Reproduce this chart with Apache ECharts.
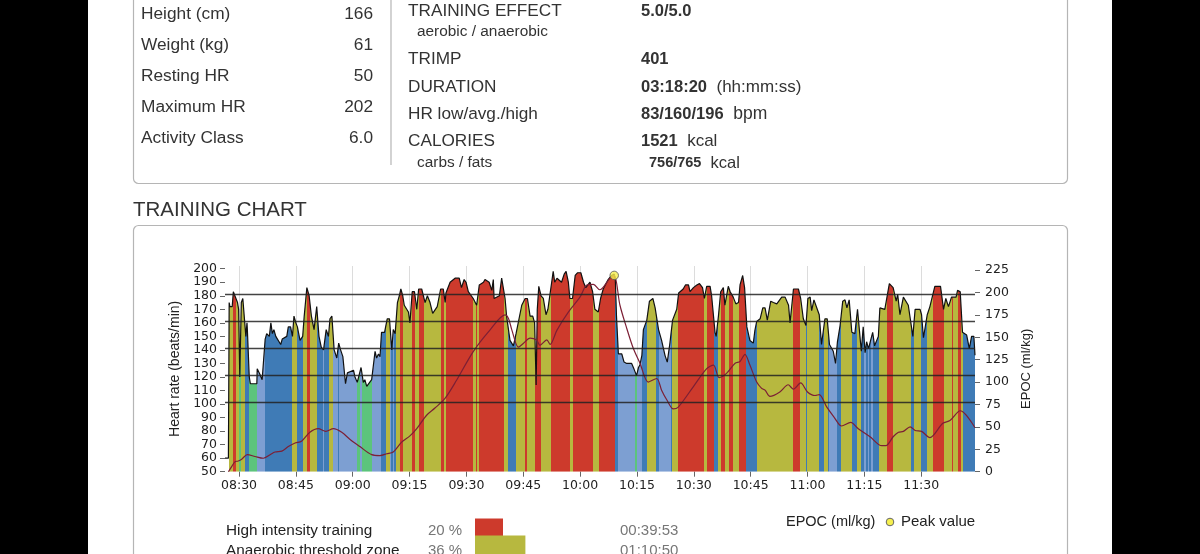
<!DOCTYPE html>
<html>
<head>
<meta charset="utf-8">
<style>html,body{margin:0;padding:0;background:#fff}#myChart{width:1200px;height:554px}</style>
<script src="https://cdn.jsdelivr.net/npm/echarts@6/dist/echarts.min.js"></script>
</head>
<body>
<div id="myChart"></div>
<script>
// times are minutes after 08:30
const hrTimes = [-3.7,-2.8,-2.6,-2.4,-1.8,-1.5,-1.0,-0.4,-0.1,0.2,0.4,0.6,1.0,1.5,1.8,2.1,2.2,2.7,3.0,4.7,4.8,5.5,6.1,6.9,7.3,8.0,8.4,8.8,9.2,9.7,11.0,11.4,12.6,13.0,13.6,14.1,14.5,15.0,15.4,16.1,16.8,17.2,17.9,18.5,19.1,19.8,20.5,21.1,21.7,22.3,23.0,23.6,24.0,24.5,25.1,25.8,26.3,26.8,27.4,28.1,28.6,30.2,30.6,31.2,32.2,32.8,33.2,33.7,35.0,35.9,36.3,36.8,37.2,37.6,38.4,39.1,39.7,40.3,40.7,41.2,41.8,42.3,42.7,43.2,43.6,44.7,45.1,45.7,46.3,46.9,47.4,48.2,49.1,49.7,50.4,51.1,52.3,53.2,53.9,
  54.4,54.6,55.7,57.0,58.1,58.7,59.4,59.9,60.5,61.8,62.7,63.4,64.5,64.9,66.0,66.7,67.1,67.3,68.7,69.3,69.7,70.2,70.6,71.5,72.4,73.1,74.6,75.5,76.1,76.8,77.5,78.0,78.4,78.7,79.1,79.7,80.3,81.0,81.5,82.5,82.9,83.3,83.9,85.1,85.8,86.3,86.9,87.3,88.0,88.7,89.3,90.2,90.9,91.5,92.6,93.3,93.9,94.8,95.4,96.1,97.4,98.3,98.8,99.0,99.3,99.6,100.1,101.0,101.6,102.3,103.6,104.2,104.9,105.4,105.8,106.3,106.7,107.6,108.3,109.2,109.8,110.7,111.5,112.4,113.0,113.7,114.4,115.5,116.0,117.2,117.8,118.6,119.0,119.9,120.8,121.5,122.3,122.8,123.4,124.3,124.7,125.6,125.9,126.5,127.1,127.8,128.2,129.1,
  129.6,130.4,131.1,131.8,132.2,132.9,133.4,134.0,134.8,135.7,136.1,136.6,137.5,138.2,138.8,139.4,140.3,141.0,141.9,143.2,144.1,145.0,145.4,146.3,147.6,148.2,148.9,149.6,150.1,150.7,151.1,151.7,153.1,153.7,154.6,155.2,155.8,156.8,157.4,157.9,158.6,159.3,159.9,160.4,161.0,161.7,162.5,163.2,163.7,164.2,164.7,165.2,165.6,166.1,167.2,167.7,168.7,169.1,170.4,171.6,172.6,173.4,173.8,174.4,175.3,176.6,177.8,178.4,179.7,180.1,180.6,181.6,182.3,183.6,185.1,185.9,186.5,187.2,188.0,189.2,189.6,190.3,190.9,192.0,192.7,193.3,193.9,194.2];
const hrValues = [60,60,175,172,172,183,183,175,170,120,120,175,178,178,150,160,155,120,115,115,126,122,118,148,152,150,160,152,155,150,144,148,150,157,157,150,165,160,157,147,150,165,186,180,165,155,172,150,142,140,155,150,163,165,140,134,145,140,135,115,123,125,120,116,127,116,118,113,118,139,134,137,135,153,153,163,163,140,155,152,175,180,185,180,173,168,160,183,183,170,185,185,175,180,175,167,172,185,185,
  175,182,190,193,193,186,192,190,183,178,173,188,190,192,190,184,192,178,180,193,192,178,165,147,143,152,173,178,178,165,165,160,114,170,187,180,178,166,170,190,198,190,193,190,196,198,190,178,178,195,197,197,190,186,190,183,170,168,178,185,192,195,195,196,192,165,137,137,131,130,130,126,121,127,129,136,155,162,176,178,171,155,147,136,131,145,162,170,182,185,188,188,183,186,188,189,186,178,187,187,180,153,150,165,183,186,173,187,
  183,179,174,175,188,195,186,157,147,145,154,161,163,171,171,162,176,175,174,179,179,173,160,185,185,178,163,158,178,179,169,177,166,144,163,163,144,139,130,146,158,176,177,171,177,153,152,170,170,139,157,138,146,141,153,143,150,171,170,189,186,176,181,166,179,173,150,170,170,166,149,166,172,187,187,170,178,172,179,179,184,183,153,151,141,150,150,136];
const epocTimes = [-2.8,-1.9,-1.1,-0.2,0.7,2.2,4.2,6.4,8.2,9.5,11.3,13.0,14.8,16.5,18.7,20.9,22.9,24.9,27.1,29.3,31.9,35.0,37.2,39.0,40.7,42.9,45.1,46.9,49.5,51.7,54.4,57.4,61.8,66.2,70.2,71.1,72.0,73.7,75.0,76.8,78.5,79.4,81.2,82.1,83.9,86.9,90.0,91.7,93.5,95.2,97.9,99.0,100.5,102.3,104.0,105.8,108.0,110.2,111.5,112.9,114.6,115.9,119.9,123.4,125.2,126.7,128.7,130.9,132.2,133.5,134.8,136.6,137.9,138.8,140.1,142.7,144.9,146.3,148.2,150.0,152.0,153.1,155.1,157.0,159.0,161.4,163.4,166.5,169.6,170.7,172.6,174.0,175.3,177.1,178.4,180.1,182.3,185.7,187.6,190.3,194.2];
const epocValues = [0,6,11,12,14,19,17,15,19,22,23,28,32,34,44,48,45,48,44,36,28,19,18,20,22,33,40,48,63,71,82,102,134,158,175,171,158,139,143,149,147,141,147,142,158,178,195,208,209,203,216,219,186,160,138,121,100,104,91,80,70,72,95,115,119,105,110,121,123,131,119,100,93,91,84,89,97,92,99,89,85,86,72,61,51,55,48,39,29,29,39,44,45,50,46,45,38,54,57,68,49];
const peakTime = 99.0;
const peakEpoc = 219;

// training zones: one kind per stretch, each stretch runs up to its end time
const zoneStart = -2.6;
const zoneEnds = [-1.7,-0.7,0.0,0.5,1.6,2.6,4.7,6.9,14.1,15.2,17.0,17.9,18.7,20.7,22.1,22.4,23.7,24.9,26.0,26.3,31.0,31.9,32.5,35.2,37.4,38.8,39.8,40.1,40.5,40.8,41.4,42.5,43.4,45.6,46.4,47.4,48.7,53.2,54.2,54.6,61.8,62.4,62.7,63.2,70.0,71.1,73.2,75.4,75.9,78.1,78.5,78.7,79.7,82.3,87.3,88.2,93.3,95.1,99.1,100.0,104.5,105.1,106.3,107.7,110.0,110.9,113.9,114.2,115.9,122.7,123.4,125.3,126.3,127.3,128.2,129.2,130.3,131.9,133.7,136.6,146.3,148.1,149.6,150.0,153.1,154.4,155.5,155.8,157.9,158.9,161.7,163.0,164.0,165.0,165.4,165.9,166.3,166.8,167.2,169.0,170.9,172.6,177.3,178.0,180.0,181.6,183.1,185.9,188.2,188.5,189.6,190.4,191.0,194.2];
const zoneKinds = ['o','r','o','g','o','b','g','l','b','o','b','o','r','o','b','l','b','o','l','b','l','g','l','g','l','b','o','l','b','l','b','o','r','o','r','o','r','o','r','o','r','o','r','o','r','o','b','o','r','o','r','g','r','o','r','o','r','o','r','b','l','g','l','b','o','b','l','b','o','r','o','r','b','o','r','o','r','o','r','b','o','r','o','b','o','b','o','b','l','b','o','b','o','b','l','b','l','b','l','b','o','r','o','b','o','b','o','r','o','r','o','r','o','b'];
const zoneColors = { r: '#cd3a2c', o: '#b7b83f', b: '#3f7bb6', l: '#7d9fd2', g: '#5cc47c' };

const timeTicks = [0,15,30,45,60,75,90,105,120,135,150,165,180];
const timeLabels = ['08:30','08:45','09:00','09:15','09:30','09:45','10:00','10:15','10:30','10:45','11:00','11:15','11:30'];
const hrTicks = [50,60,70,80,90,100,110,120,130,140,150,160,170,180,190,200];
const epocTicks = [0,25,50,75,100,125,150,175,200,225];
const hrLimits = [101,121,141,161,181];

const zoneNames = ['High intensity training','Anaerobic threshold zone'];
const zoneShares = [20,36];
const zoneTimes = ['00:39:53','01:10:50'];

const profileLabels = ['Height (cm)','Weight (kg)','Resting HR','Maximum HR','Activity Class'];
const profileValues = ['166','61','50','202','6.0'];

const font = '"Liberation Sans", Arial, sans-serif';
const axisFont = '"DejaVu Sans", sans-serif';
const ink = '#333';

function text(x, y, str, size, extra) {
    return {
        type: 'text', x: x, y: y, silent: true,
        style: Object.assign({ text: str, fill: ink, font: size + 'px ' + font, textVerticalAlign: 'middle' }, extra || {})
    };
}
function boldThen(x, y, bold, rest, size, restSize) {
    return {
        type: 'text', x: x, y: y, silent: true,
        style: {
            text: '{b|' + bold + '}' + (rest ? '{n|  ' + rest + '}' : ''),
            textVerticalAlign: 'middle',
            rich: {
                b: { fontFamily: font, fontSize: size, fontWeight: 'bold', fill: ink, color: ink },
                n: { fontFamily: font, fontSize: restSize, fill: ink, color: ink }
            }
        }
    };
}

const furniture = [
    { type: 'rect', shape: { x: 133.5, y: -20, width: 934, height: 203.5, r: 5 }, style: { fill: '#fff', stroke: '#b5b5b5', lineWidth: 1.2 } },
    { type: 'rect', shape: { x: 133.5, y: 225.5, width: 934, height: 360, r: 5 }, style: { fill: '#fff', stroke: '#b5b5b5', lineWidth: 1.2 } },
    { type: 'rect', shape: { x: 0, y: 0, width: 88, height: 554 }, style: { fill: '#000' } },
    { type: 'rect', shape: { x: 1112, y: 0, width: 88, height: 554 }, style: { fill: '#000' } },
    { type: 'line', shape: { x1: 391, y1: 0, x2: 391, y2: 165 }, style: { stroke: '#b5b5b5', lineWidth: 1.2 } },
    text(133, 210, 'TRAINING CHART', 20.5),
    text(408, 11, 'TRAINING EFFECT', 17.2),
    text(417, 32, 'aerobic / anaerobic', 15.4),
    text(408, 59, 'TRIMP', 17.2),
    text(408, 87, 'DURATION', 17.2),
    text(408, 114, 'HR low/avg./high', 17.2),
    text(408, 141, 'CALORIES', 17.2),
    text(417, 163, 'carbs / fats', 15.4),
    boldThen(641, 11, '5.0/5.0', '', 16.5, 17),
    boldThen(641, 59, '401', '', 16.5, 17),
    boldThen(641, 87, '03:18:20', '(hh:mm:ss)', 16.5, 17),
    boldThen(641, 114, '83/160/196', 'bpm', 16.5, 17.5),
    boldThen(641, 141, '1521', 'kcal', 16.5, 17),
    boldThen(649, 163, '756/765', 'kcal', 14.5, 16.5),
    text(786, 522, 'EPOC (ml/kg)', 14.5, { fill: '#222' }),
    { type: 'circle', shape: { cx: 890, cy: 522, r: 3.8 }, style: { fill: '#f6f04e', stroke: '#666', lineWidth: 1 } },
    text(901, 522, 'Peak value', 15, { fill: '#222' })
];
profileLabels.forEach(function (label, i) {
    const y = 14 + i * 31;
    furniture.push(text(141, y, label, 17.3));
    furniture.push(text(373, y, profileValues[i], 17.3, { textAlign: 'right' }));
});
zoneNames.forEach(function (name, i) {
    const y = 531 + i * 19.5;
    furniture.push(text(226, y, name, 15.3, { fill: '#222' }));
    furniture.push(text(428, y, zoneShares[i] + ' %', 15, { fill: '#777' }));
    furniture.push(text(620, y, zoneTimes[i], 15, { fill: '#777' }));
});

const zonePieces = zoneEnds.map(function (end, i) {
    return { gte: i === 0 ? zoneStart : zoneEnds[i - 1], lt: end, color: zoneColors[zoneKinds[i]] };
});

const hrData = hrTimes.map(function (t, i) { return [t, hrValues[i]]; });
const epocData = epocTimes.map(function (t, i) { return [t, epocValues[i]]; });

const axisText = { color: '#222', fontFamily: axisFont, fontSize: 12.5 };

const myChart = echarts.init(document.getElementById('myChart'));

const option = {
    animation: false,
    backgroundColor: '#fff',
    graphic: { elements: furniture },
    grid: [
        { left: 225, top: 266, width: 750, height: 205.7, show: true, borderColor: '#b8b8b8', borderWidth: 1.5, containLabel: false },
        { left: 475, top: 518.5, width: 140, height: 42, containLabel: false }
    ],
    xAxis: [
        {
            type: 'value', min: -3.7, max: 194.2, gridIndex: 0,
            axisLine: { show: false, onZero: false },
            axisTick: { length: 5, lineStyle: { color: '#666' }, customValues: timeTicks },
            axisLabel: Object.assign({}, axisText, {
                margin: 8, hideOverlap: false, customValues: timeTicks,
                formatter: function (v) { return timeLabels[timeTicks.indexOf(v)]; }
            }),
            splitLine: { show: true, lineStyle: { color: '#dcdcdc' } }
        },
        { type: 'value', min: 0, max: 100, gridIndex: 1, show: false }
    ],
    yAxis: [
        {
            type: 'value', min: 50, max: 202, gridIndex: 0, position: 'left',
            name: 'Heart rate (beats/min)', nameLocation: 'middle', nameGap: 40,
            nameTextStyle: { color: '#222', fontFamily: font, fontSize: 14 },
            axisLine: { show: false, onZero: false },
            axisTick: { length: 5, lineStyle: { color: '#666' }, customValues: hrTicks },
            axisLabel: Object.assign({}, axisText, { margin: 8, showMinLabel: true, showMaxLabel: true, hideOverlap: false, customValues: hrTicks }),
            splitLine: { show: false }
        },
        {
            type: 'value', min: 0, max: 229.5, gridIndex: 0, position: 'right',
            name: 'EPOC (ml/kg)', nameLocation: 'middle', nameGap: 44,
            nameTextStyle: { color: '#222', fontFamily: font, fontSize: 13 },
            axisLine: { show: false, onZero: false },
            axisTick: { length: 5, lineStyle: { color: '#666' }, customValues: epocTicks },
            axisLabel: Object.assign({}, axisText, { margin: 10, customValues: epocTicks }),
            splitLine: { show: false }
        },
        { type: 'category', data: zoneNames, inverse: true, gridIndex: 1, show: false }
    ],
    visualMap: {
        show: false, type: 'piecewise', dimension: 0, seriesIndex: 0,
        pieces: zonePieces,
        outOfRange: { color: 'rgba(0,0,0,0)' }
    },
    series: [
        {
            name: 'Zones', type: 'line', data: hrData, showSymbol: false, silent: true, z: 1,
            lineStyle: { width: 0 }, areaStyle: { opacity: 1 }
        },
        {
            name: 'Heart rate', type: 'line', data: hrData, showSymbol: false, silent: true, z: 3,
            lineStyle: { color: '#111', width: 1.2 },
            markLine: {
                silent: true, symbol: 'none', label: { show: false },
                lineStyle: { color: '#222', width: 1.3, type: 'solid', opacity: 0.85 },
                data: hrLimits.map(function (v) { return { yAxis: v }; })
            }
        },
        {
            name: 'EPOC', type: 'line', yAxisIndex: 1, data: epocData, showSymbol: false, silent: true, z: 4,
            smooth: 0.3, lineStyle: { color: '#7c1f35', width: 1.2 }
        },
        {
            name: 'Peak value', type: 'scatter', yAxisIndex: 1, data: [[peakTime, peakEpoc]], z: 5,
            symbolSize: 8.5, itemStyle: { color: '#f6f04e', borderColor: '#555', borderWidth: 1 }
        },
        {
            name: 'Share', type: 'bar', xAxisIndex: 1, yAxisIndex: 2, barWidth: 19.5,
            data: zoneShares.map(function (v, i) {
                return { value: v, itemStyle: { color: i === 0 ? zoneColors.r : zoneColors.o } };
            })
        }
    ]
};

myChart.setOption(option);
</script>
</body>
</html>
